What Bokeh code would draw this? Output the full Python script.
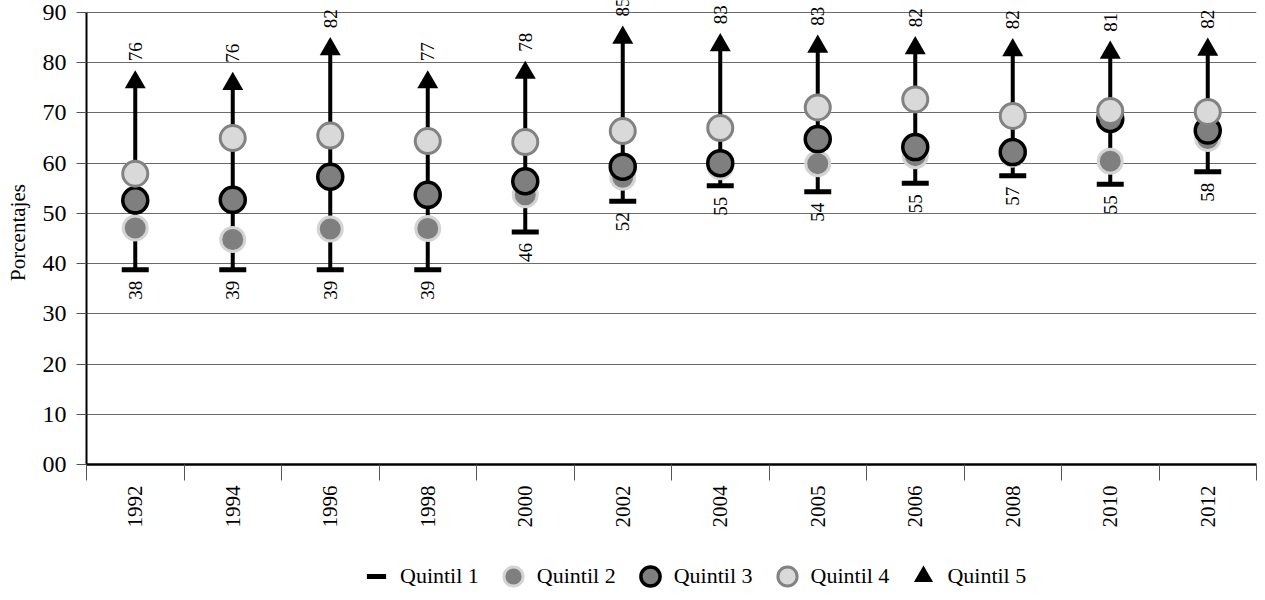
import math
from bokeh.plotting import figure
from bokeh.layouts import column
from bokeh.models import Range1d, FixedTicker, Legend, LegendItem, ColumnDataSource, LabelSet
from bokeh.embed import file_html
from bokeh.resources import INLINE

years = ["1992", "1994", "1996", "1998", "2000", "2002", "2004", "2005", "2006", "2008", "2010", "2012"]
q1 = [38.8, 38.8, 38.8, 38.8, 46.3, 52.4, 55.5, 54.3, 56.0, 57.5, 55.8, 58.3]
q1_labels = ["38", "39", "39", "39", "46", "52", "55", "54", "55", "57", "55", "58"]
q2 = [47.1, 44.8, 46.9, 47.0, 53.7, 57.2, 59.3, 59.9, 61.5, 61.8, 60.4, 64.9]
q3 = [52.6, 52.7, 57.3, 53.7, 56.4, 59.3, 60.0, 64.8, 63.2, 62.2, 68.8, 66.5]
q4 = [57.9, 65.0, 65.5, 64.4, 64.2, 66.4, 67.0, 71.1, 72.7, 69.4, 70.4, 70.2]
q5 = [76.1, 75.8, 82.7, 76.1, 78.0, 85.0, 83.5, 83.2, 82.9, 82.5, 82.0, 82.6]
q5_labels = ["76", "76", "82", "77", "78", "85", "83", "83", "82", "82", "81", "82"]
y_ticks = [0, 10, 20, 30, 40, 50, 60, 70, 80, 90]
series_names = ["Quintil 1", "Quintil 2", "Quintil 3", "Quintil 4", "Quintil 5"]

FONT = "Liberation Serif"
xs = [i + 1 for i in range(len(years))]
src = ColumnDataSource(dict(x=xs, q1=q1, q2=q2, q3=q3, q4=q4, q5=q5,
                            l1=q1_labels, l5=q5_labels))

styles = [
    dict(marker="dash", size=27, line_width=5, line_color="black", fill_color="black"),
    dict(marker="circle", size=24, line_width=3, line_color="#d4d4d4", fill_color="#7f7f7f"),
    dict(marker="circle", size=25, line_width=3.5, line_color="black", fill_color="#7f7f7f"),
    dict(marker="circle", size=25, line_width=3, line_color="#828282", fill_color="#d9d9d9"),
    dict(marker="triangle", size=21, line_width=0, line_color="black", fill_color="black"),
]

# frame spans 0..464 px; 90 sits 12 px below the frame top
p = figure(width=1257, height=530, output_backend="svg", toolbar_location=None,
           x_range=Range1d(0.5, len(years) + 0.5), y_range=Range1d(0, 92.39),
           min_border_left=86, min_border_right=1, min_border_top=0, min_border_bottom=66)
p.outline_line_color = None
p.background_fill_color = "white"
p.border_fill_color = "white"

# grid
p.xgrid.visible = False
p.ygrid.ticker = FixedTicker(ticks=y_ticks)
p.ygrid.grid_line_color = "#6b6b6b"
p.ygrid.grid_line_width = 1

# y axis
ya = p.yaxis[0]
ya.ticker = FixedTicker(ticks=y_ticks)
ya.bounds = (0, 90)
ya.major_label_overrides = {0: "00"}
ya.axis_line_width = 2
ya.axis_line_color = "black"
ya.major_tick_out = 10
ya.major_tick_in = 0
ya.major_tick_line_color = "#555555"
ya.minor_tick_line_color = None
ya.major_label_text_font = FONT
ya.major_label_text_font_size = "24px"
ya.major_label_text_color = "black"
ya.major_label_standoff = 10
ya.axis_label = "Porcentajes"
ya.axis_label_text_font = FONT
ya.axis_label_text_font_size = "21px"
ya.axis_label_text_font_style = "normal"
ya.axis_label_text_color = "black"
ya.axis_label_standoff = 10

# x axis
xa = p.xaxis[0]
xa.ticker = FixedTicker(ticks=xs, minor_ticks=[i + 0.5 for i in range(len(years) + 1)])
xa.major_label_overrides = {x: y for x, y in zip(xs, years)}
xa.major_tick_line_color = None
xa.major_tick_out = 0
xa.major_tick_in = 0
xa.minor_tick_out = 16
xa.minor_tick_in = 0
xa.minor_tick_line_color = "#555555"
xa.axis_line_width = 2.5
xa.axis_line_color = "black"
xa.major_label_orientation = math.pi / 2
xa.major_label_standoff = 5
xa.major_label_text_font = FONT
xa.major_label_text_font_size = "21px"
xa.major_label_text_color = "black"

# stems
p.segment(x0="x", y0="q1", x1="x", y1="q5", source=src, line_width=4, line_color="black")

for col, st in zip(["q1", "q2", "q3", "q4", "q5"], styles):
    p.scatter(x="x", y=col, source=src, **st)

# value labels
p.add_layout(LabelSet(x="x", y="q1", text="l1", source=src, angle=math.pi / 2,
                      text_align="right", text_baseline="middle", y_offset=-11,
                      text_font=FONT, text_font_size="19px", text_color="black"))
p.add_layout(LabelSet(x="x", y="q5", text="l5", source=src, angle=math.pi / 2,
                      text_align="left", text_baseline="middle", y_offset=21,
                      text_font=FONT, text_font_size="19px", text_color="black"))

# legend strip (its frame is aligned with the main frame by the column layout)
p2 = figure(width=1257, height=70, output_backend="svg", toolbar_location=None,
            x_range=Range1d(0, 1), y_range=Range1d(0, 1), x_axis_type=None, y_axis_type=None,
            min_border=0)
p2.outline_line_color = None
p2.xgrid.visible = False
p2.ygrid.visible = False
items = []
for name, st in zip(series_names, styles):
    r = p2.scatter(x=[-5], y=[-5], **st)
    items.append(LegendItem(label=name, renderers=[r]))
legend = Legend(items=items, orientation="horizontal", location=(266, 0))
legend.border_line_color = None
legend.background_fill_alpha = 0
legend.label_text_font = FONT
legend.label_text_font_size = "22px"
legend.label_text_color = "black"
legend.glyph_width = 48
legend.glyph_height = 48
legend.label_standoff = 0
legend.spacing = 10
legend.padding = 0
legend.margin = 0
p2.add_layout(legend, "center")

open("out.html", "w").write(file_html(column(p, p2), INLINE))
